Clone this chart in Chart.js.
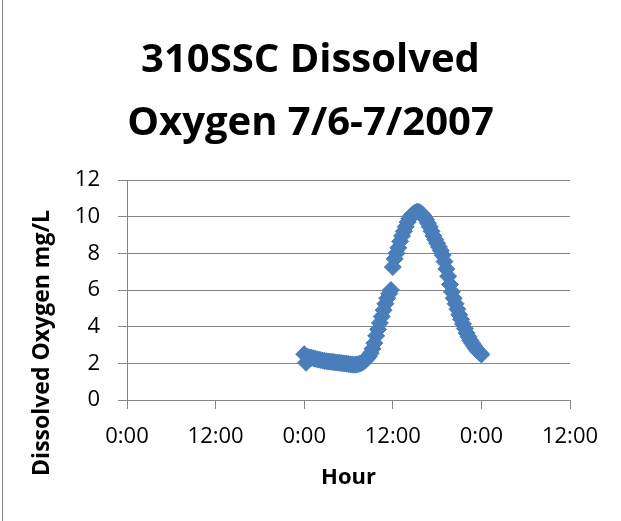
<!DOCTYPE html>
<html>
<head>
<meta charset="utf-8">
<script src="https://cdn.jsdelivr.net/npm/chart.js@4"></script>
<style>
  html, body { margin: 0; padding: 0; background: #ffffff; }
  canvas { display: block; }
</style>
</head>
<body>
<canvas id="c" width="621" height="521"></canvas>
<script>
// ---- data ----
const titleLines = ['310SSC Dissolved', 'Oxygen 7/6-7/2007'];
const xAxisTitle = 'Hour';
const yAxisTitle = 'Dissolved Oxygen mg/L';
const xTickLabels = ['0:00', '12:00', '0:00', '12:00', '0:00', '12:00'];
const yTickValues = [0, 2, 4, 6, 8, 10, 12];
const startDay = 1; // 7/6 is plotted one day after the axis origin
const hours = [
  0, 0.25, 0.5, 0.75, 1, 1.25, 1.5, 1.75, 2, 2.25, 2.5, 2.75,
  3, 3.25, 3.5, 3.75, 4, 4.25, 4.5, 4.75, 5, 5.25, 5.5, 5.75,
  6, 6.25, 6.5, 6.75, 7, 7.25, 7.5, 7.75, 8, 8.25, 8.5, 8.75,
  9, 9.25, 9.5, 9.75, 10, 10.25, 10.5, 10.75, 11, 11.25, 11.5, 11.75,
  12, 12.25, 12.5, 12.75, 13, 13.25, 13.5, 13.75, 14, 14.25, 14.5, 14.75,
  15, 15.25, 15.5, 15.75, 16, 16.25, 16.5, 16.75, 17, 17.25, 17.5, 17.75,
  18, 18.25, 18.5, 18.75, 19, 19.25, 19.5, 19.75, 20, 20.25, 20.5, 20.75,
  21, 21.25, 21.5, 21.75, 22, 22.25, 22.5, 22.75, 23, 23.25, 23.5, 23.75,
  24
];
const dissolvedOxygen = [
  2.50, 2.03, 2.35, 2.32, 2.30, 2.28, 2.25, 2.22, 2.20, 2.18, 2.15, 2.13,
  2.12, 2.10, 2.09, 2.08, 2.07, 2.05, 2.04, 2.03, 2.02, 2.00, 1.99, 1.98,
  1.96, 1.95, 1.93, 1.92, 1.93, 1.95, 1.98, 2.02, 2.08, 2.15, 2.25, 2.38,
  2.55, 2.80, 3.10, 3.50, 3.85, 4.20, 4.55, 4.90, 5.25, 5.55, 5.80, 6.00,
  7.25, 7.70, 8.00, 8.30, 8.65, 8.95, 9.20, 9.45, 9.70, 9.90, 10.05, 10.15,
  10.22, 10.27, 10.27, 10.22, 10.12, 10.00, 9.85, 9.65, 9.45, 9.20, 8.95, 8.75,
  8.55, 8.35, 8.15, 7.90, 7.55, 7.15, 6.75, 6.30, 5.90, 5.55, 5.25, 4.95,
  4.65, 4.40, 4.15, 3.90, 3.65, 3.45, 3.25, 3.10, 2.95, 2.80, 2.68, 2.58,
  2.48
];

// ---- build ----
const points = hours.map((h, i) => ({ x: startDay + h / 24, y: dissolvedOxygen[i] }));
const GRAY = '#868686';
const FONT = "'Open Sans', 'DejaVu Sans', sans-serif";

const decorPlugin = {
  id: 'decor',
  beforeDraw(chart) {
    const ctx = chart.ctx;
    ctx.save();
    ctx.fillStyle = '#ffffff';
    ctx.fillRect(0, 0, chart.width, chart.height);
    ctx.fillStyle = GRAY;
    ctx.fillRect(2, 0, 1, chart.height);
    ctx.restore();
  },
  afterDraw(chart) {
    const ctx = chart.ctx;
    const a = chart.chartArea;
    ctx.save();
    ctx.translate(42, a.bottom - 57);
    ctx.rotate(-Math.PI / 2);
    ctx.font = 'bold 23px ' + FONT;
    ctx.fillStyle = '#000000';
    ctx.textAlign = 'center';
    ctx.textBaseline = 'middle';
    ctx.fillText(yAxisTitle, 0, 0);
    ctx.restore();
  }
};

new Chart(document.getElementById('c'), {
  type: 'scatter',
  data: {
    datasets: [{
      data: points,
      pointStyle: 'rectRot',
      pointRadius: 8.5,
      pointHoverRadius: 8.5,
      backgroundColor: '#4A7EBB',
      borderColor: '#4A7EBB',
      borderWidth: 1,
      showLine: false
    }]
  },
  options: {
    responsive: false,
    animation: false,
    devicePixelRatio: 1,
    layout: { padding: { left: 51, right: 51, top: 0, bottom: 0 } },
    plugins: {
      legend: { display: false },
      tooltip: { enabled: false },
      title: {
        display: true,
        text: titleLines,
        color: '#000000',
        font: { family: FONT, size: 40, weight: 'bold', lineHeight: 1.575 },
        padding: { top: 29, bottom: 25 }
      }
    },
    scales: {
      x: {
        type: 'linear',
        min: 0,
        max: 2.5,
        afterFit(scale) { scale.height = 121; },
        afterBuildTicks(scale) {
          scale.ticks = xTickLabels.map((_, i) => ({ value: i * 0.5 }));
        },
        ticks: {
          color: '#000000',
          font: { family: FONT, size: 22 },
          padding: 15,
          maxRotation: 0,
          autoSkip: false,
          callback: (v, i) => xTickLabels[i]
        },
        grid: {
          display: true,
          drawOnChartArea: false,
          drawTicks: true,
          tickLength: 9,
          color: GRAY,
          lineWidth: 1
        },
        border: { display: true, color: GRAY, width: 1 },
        title: {
          display: true,
          text: xAxisTitle,
          color: '#000000',
          font: { family: FONT, size: 22, weight: 'bold' },
          padding: { top: 0, bottom: 30 }
        }
      },
      y: {
        type: 'linear',
        min: 0,
        max: 12,
        afterFit(scale) { scale.width = 76; },
        afterBuildTicks(scale) {
          scale.ticks = yTickValues.map(v => ({ value: v }));
        },
        ticks: {
          color: '#000000',
          font: { family: FONT, size: 22 },
          padding: 18,
          callback: (v) => String(v)
        },
        grid: {
          display: true,
          drawOnChartArea: true,
          drawTicks: true,
          tickLength: 9,
          color: GRAY,
          lineWidth: 1
        },
        border: { display: true, color: GRAY, width: 1 }
      }
    }
  },
  plugins: [decorPlugin]
});
</script>
</body>
</html>
